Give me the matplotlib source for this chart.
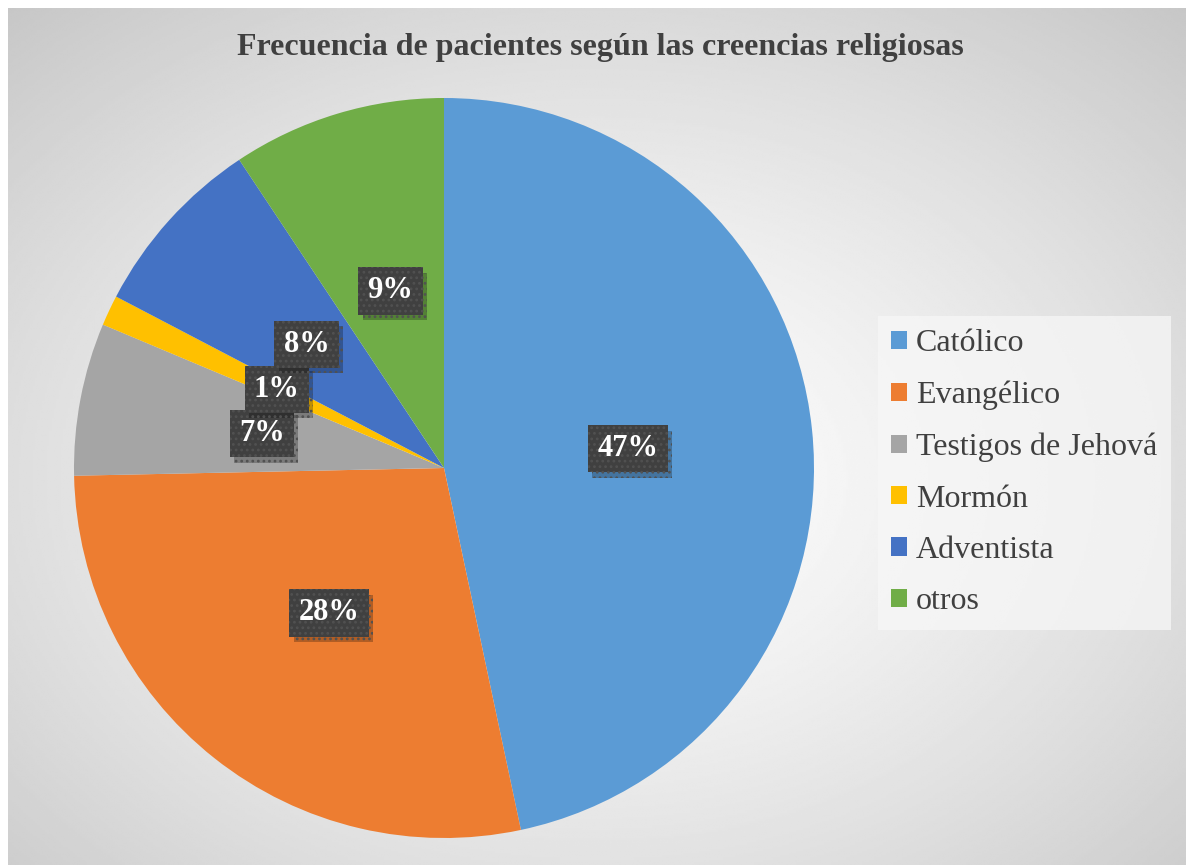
import numpy as np
import matplotlib
matplotlib.use('Agg')
from matplotlib import pyplot as plt
from matplotlib import patheffects as pe

# data (counts)
religiones = ['Católico', 'Evangélico', 'Testigos de Jehová', 'Mormón', 'Adventista', 'otros']
pacientes = [35, 21, 5, 1, 6, 7]
colores = ['#5b9bd5', '#ed7d31', '#a5a5a5', '#ffc000', '#4472c4', '#70ad47']
titulo = 'Frecuencia de pacientes según las creencias religiosas'

plt.rcParams['font.family'] = ['Liberation Serif', 'DejaVu Serif']
plt.rcParams['hatch.linewidth'] = 1.2

W, H = 1186, 865
fig = plt.figure(figsize=(W / 100, H / 100), dpi=100)
fig.patch.set_facecolor('white')

# background: radial gradient chart area
bg = fig.add_axes([8 / W, 0, 1 - 8 / W, 1 - 8 / H])
bg.set_axis_off()
yy, xx = np.mgrid[0:1:400j, 0:1:500j]
d = np.sqrt(((xx - 0.5) / 0.75) ** 2 + ((yy - 0.55) / 0.75) ** 2)
d = np.clip(d / d.max(), 0, 1)
shade = 1.0 - 0.22 * d ** 1.3
bg.imshow(shade, cmap='gray', vmin=0, vmax=1, extent=[0, 1, 0, 1],
          aspect='auto', origin='upper', interpolation='bilinear')

# pie
cx, cy, r = 444, 468, 370
ax = fig.add_axes([(cx - r) / W, (H - cy - r) / H, 2 * r / W, 2 * r / H])
wedges, texts, autotexts = ax.pie(
    pacientes, colors=colores, startangle=90, counterclock=False,
    autopct='%1.0f%%', pctdistance=0.5,
    wedgeprops=dict(linewidth=0))
ax.set_xlim(-1, 1)
ax.set_ylim(-1, 1)
ax.set_aspect('equal')

for t in autotexts:
    t.set_fontsize(22)
    t.set_fontweight('bold')
    t.set_color('white')
    t.set_zorder(5)
    t.set_bbox(dict(boxstyle='square,pad=0.3', facecolor='#404040',
                    edgecolor='#515151', linewidth=0, hatch='...'))
    # soft shadow under the label box
    t.get_bbox_patch().set_path_effects(
        [pe.SimplePatchShadow(offset=(3, -4), shadow_rgbFace='black', alpha=0.25),
         pe.Normal()])

fig.text(600 / W, 1 - 48 / H, titulo, ha='center', va='center',
         fontsize=23, fontweight='bold', color='#404040')

leg = fig.legend(wedges, religiones, loc='upper left',
                 bbox_to_anchor=(878 / W, 1 - 316 / H),
                 frameon=True, fancybox=False, fontsize=23,
                 labelcolor='#404040', handlelength=0.5, handleheight=0.5,
                 handletextpad=0.27, labelspacing=0.7, borderpad=0.42,
                 borderaxespad=0)
leg.get_frame().set_facecolor('#f7f7f7')
leg.get_frame().set_alpha(0.75)
leg.get_frame().set_linewidth(0)

fig.savefig('out.png', dpi=100)
